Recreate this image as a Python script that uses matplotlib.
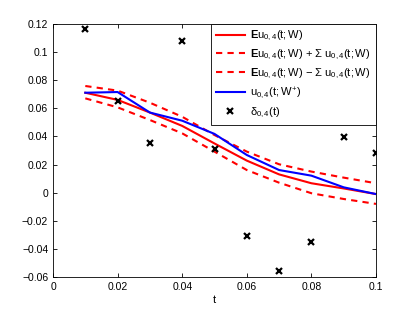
import matplotlib
matplotlib.use('Agg')
import matplotlib.pyplot as plt
import numpy as np

plt.rcParams['font.family'] = ['Liberation Sans', 'DejaVu Sans']
plt.rcParams['mathtext.fontset'] = 'custom'
plt.rcParams['mathtext.rm'] = 'Liberation Sans'
plt.rcParams['mathtext.it'] = 'Liberation Sans'
plt.rcParams['mathtext.bf'] = 'Liberation Sans:bold'

t = [0.01, 0.02, 0.03, 0.04, 0.05, 0.06, 0.07, 0.08, 0.09, 0.10]
mean_u = [0.0711, 0.0660, 0.0570, 0.0475, 0.0350, 0.0228, 0.0130, 0.0067, 0.0030, -0.0010]
upper_u = [0.0759, 0.0726, 0.0640, 0.0540, 0.0410, 0.0292, 0.0202, 0.0150, 0.0107, 0.0067]
lower_u = [0.0671, 0.0607, 0.0517, 0.0422, 0.0292, 0.0161, 0.0071, -0.0004, -0.0045, -0.0080]
u_opt = [0.0711, 0.0716, 0.0570, 0.0512, 0.0418, 0.0268, 0.0161, 0.0121, 0.0038, -0.0010]
delta = [0.1162, 0.0650, 0.0351, 0.1077, 0.0309, -0.0306, -0.0555, -0.0349, 0.0398, 0.0280]

fig = plt.figure(figsize=(4.15, 3.12), dpi=100)
ax = fig.add_axes([53/415, 1 - 277/312, (376 - 53)/415, (277 - 24)/312])

ax.plot(t, mean_u, color='red', lw=1.5, label=r'$\mathbf{E}u_{0,4}(t;W)$')
ax.plot(t, upper_u, color='red', lw=1.5, ls=(0, (3, 2.5)),
        label=r'$\mathbf{E}u_{0,4}(t;W)$ + $\Sigma$ $u_{0,4}(t;W)$')
ax.plot(t, lower_u, color='red', lw=1.5, ls=(0, (3, 2.5)),
        label=r'$\mathbf{E}u_{0,4}(t;W)$ $-$ $\Sigma$ $u_{0,4}(t;W)$')
ax.plot(t, u_opt, color='blue', lw=1.5, label=r'$u_{0,4}(t;W^{+})$')
ax.plot(t, delta, ls='none', marker='x', color='black', ms=5, mew=1.6,
        label=r'$\delta_{0,4}(t)$')

ax.set_xlim(0, 0.1)
ax.set_ylim(-0.06, 0.12)
ax.set_xticks([0, 0.02, 0.04, 0.06, 0.08, 0.1])
ax.set_xticklabels(['0', '0.02', '0.04', '0.06', '0.08', '0.1'])
yt = [-0.06, -0.04, -0.02, 0, 0.02, 0.04, 0.06, 0.08, 0.1, 0.12]
ax.set_yticks(yt)
ax.set_yticklabels([('%g' % v).replace('-', '\u2212') for v in yt])
ax.tick_params(direction='in', top=True, right=True, labelsize=7.5, length=3, width=0.6)
for s in ax.spines.values():
    s.set_linewidth(0.6)
ax.set_xlabel('t', fontsize=8, labelpad=2)

leg = ax.legend(loc='upper right', fontsize=8, frameon=True, fancybox=False,
                edgecolor='black', framealpha=1, borderaxespad=0,
                handlelength=2.6, labelspacing=0.4, borderpad=0.45, handletextpad=0.5)
leg.get_frame().set_linewidth(0.6)

fig.savefig('out.png', dpi=100)
